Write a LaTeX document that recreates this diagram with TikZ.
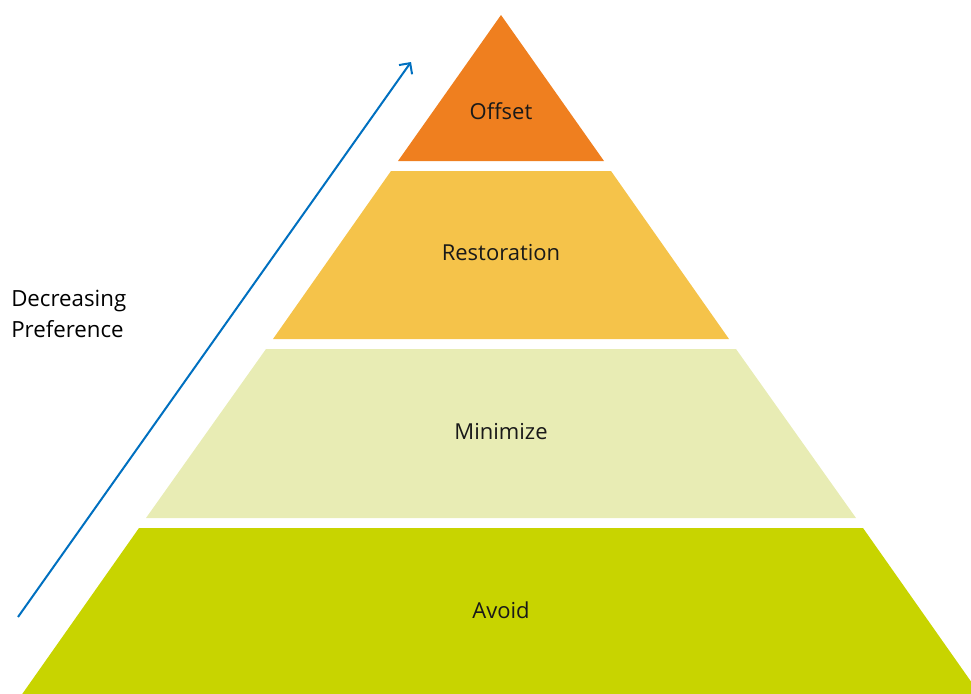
\documentclass[tikz,border=0pt]{standalone}
\usepackage{fontspec}
\setmainfont{Open Sans}
\usetikzlibrary{arrows.meta}

\definecolor{offsetorange}{RGB}{239,127,31}
\definecolor{restoreyellow}{RGB}{245,195,74}
\definecolor{minimizegreen}{RGB}{232,236,180}
\definecolor{avoidlime}{RGB}{200,212,0}
\definecolor{arrowblue}{RGB}{0,112,192}

\begin{document}
\begin{tikzpicture}[
	x=0.75pt, y=-0.75pt,
	tier/.style = {fill=#1},
	tierlabel/.style = {
		font=\fontsize{16.5}{20}\selectfont,
		text=black!90, inner sep=0pt
	},
	sidelabel/.style = {
		font=\fontsize{16.7}{23}\selectfont,
		align=left, anchor=north west, inner sep=0pt
	}
]
	\useasboundingbox (0,0) rectangle (971,693);
	\clip (0,0) rectangle (971,693);

	\fill [tier=offsetorange]  (501,15)  -- (604,161) -- (398,161) -- cycle;
	\fill [tier=restoreyellow] (391,171) -- (611,171) -- (729,339) -- (273,339) -- cycle;
	\fill [tier=minimizegreen] (266,349) -- (736,349) -- (856,518) -- (146,518) -- cycle;
	\fill [tier=avoidlime]     (139,528) -- (863,528) -- (984,700) -- (18,700) -- cycle;

	\node [tierlabel] (offset)      at (501,111) {Offset};
	\node [tierlabel] (restoration) at (501,253) {Restoration};
	\node [tierlabel] (minimize)    at (501,432) {Minimize};
	\node [tierlabel] (avoid)       at (501,610) {Avoid};

	\node [sidelabel] (preference) at (11,290) {Decreasing\\Preference};

	\coordinate (arrowstart) at (18,617);
	\coordinate (arrowend)   at (411,62);
	\draw [arrowblue, line width=1.5pt, -{Straight Barb[length=6pt,width=12pt]}]
		(arrowstart) -- (arrowend);
\end{tikzpicture}
\end{document}
